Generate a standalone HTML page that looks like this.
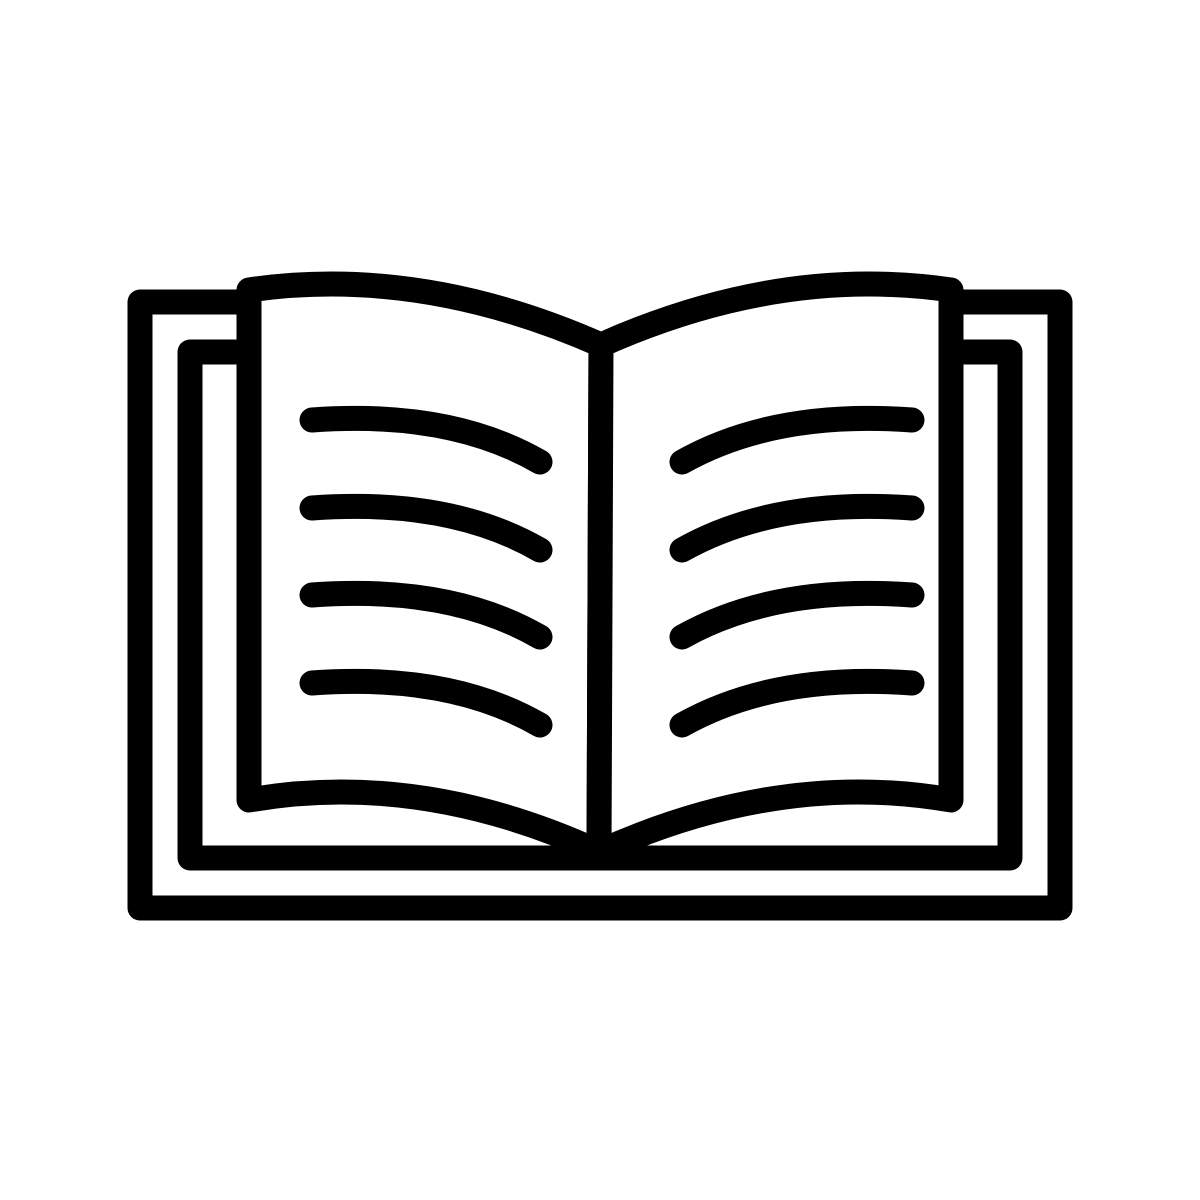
<!DOCTYPE html>
<html><head><style>html,body{margin:0;padding:0;background:#fff}svg{display:block}</style></head>
<body>
<svg width="1200" height="1200" viewBox="0 0 1200 1200" xmlns="http://www.w3.org/2000/svg">
<g fill="none" stroke="#000" stroke-width="25" stroke-linejoin="round" stroke-linecap="round">
<path d="M243 302 H140 V908 H1060 V302 H957"/>
<path d="M236 352 H190 V858 H1010 V352 H964"/>
<path d="M249 290 Q420 265 601 345 L599 852 Q420 770 249 800 Z" fill="#fff"/>
<path d="M951 290 Q780 265 601 345 L599 852 Q780 770 951 800 Z" fill="#fff"/>
<path d="M312 420 Q450 410 540 462"/>
<path d="M312 508 Q450 498 540 550"/>
<path d="M312 595 Q450 585 540 637"/>
<path d="M312 683 Q450 673 540 725"/>
<path d="M912 420 Q774 410 682 462"/>
<path d="M912 508 Q774 498 682 550"/>
<path d="M912 595 Q774 585 682 637"/>
<path d="M912 683 Q774 673 682 725"/>
</g>
</svg>
</body></html>
